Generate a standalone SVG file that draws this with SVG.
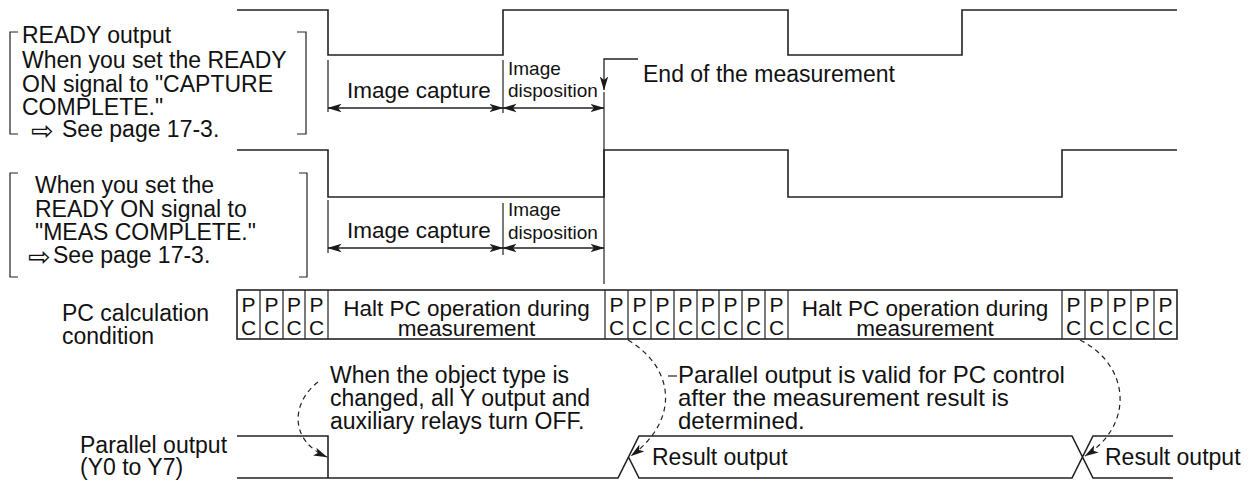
<svg xmlns="http://www.w3.org/2000/svg" width="1249" height="481" viewBox="0 0 1249 481">
<defs>
<marker id="ah" viewBox="0 0 14 10" refX="13.5" refY="5" markerWidth="14" markerHeight="10" markerUnits="userSpaceOnUse" orient="auto-start-reverse"><path d="M0,0.8 L14,5 L0,9.2 L3.5,5 z" fill="#1a1a1a"/></marker>
</defs>
<style>
text{font-family:"Liberation Sans",Arial,"DejaVu Sans",sans-serif;font-size:23px;fill:#111}
.sm{font-size:19px}
.ic{font-size:22.5px}
.pc{font-size:21px;text-anchor:middle}
.halt{font-size:22.5px;text-anchor:middle}
.ra{font-size:24px}
.arw{font-family:"DejaVu Sans",sans-serif;font-size:27px}
.w{fill:none;stroke:#222;stroke-width:1.6}
.t{fill:none;stroke:#222;stroke-width:1.2}
.d{fill:none;stroke:#222;stroke-width:1.2;stroke-dasharray:5 4}
.dim{fill:none;stroke:#222;stroke-width:1.3;marker-start:url(#ah);marker-end:url(#ah)}
.one{fill:none;stroke:#222;stroke-width:1.3;marker-end:url(#ah)}
</style>
<rect width="1249" height="481" fill="#fff"/>

<g id="note-capture">
<path class="t" d="M18,32 H10 V134 H18 M297,32 H306 V134 H297"/>
<text x="22" y="43">READY output</text>
<text x="22" y="68">When you set the READY</text>
<text x="22" y="92">ON signal to "CAPTURE</text>
<text x="22" y="115">COMPLETE."</text>
<text class="arw" x="31" y="140">⇨</text>
<text x="62" y="137">See page 17-3.</text>
</g>

<g id="note-meas">
<path class="t" d="M18,173 H10 V277 H18 M299,173 H307 V277 H299"/>
<text x="35" y="193">When you set the</text>
<text x="35" y="217">READY ON signal to</text>
<text x="35" y="240">"MEAS COMPLETE."</text>
<text class="arw" x="28" y="266">⇨</text>
<text x="53" y="263">See page 17-3.</text>
</g>

<g id="wave-ready1">
<path class="w" d="M237,10 H328 V55 H503 V10 H788 V55 H962 V10 H1177"/>
<path class="t" d="M328,60 V112 M503,60 V113"/>
<text class="ic" x="347" y="98">Image capture</text>
<text class="sm" x="508" y="75">Image</text>
<text class="sm" x="508" y="97">disposition</text>
</g>

<g id="wave-ready2">
<path class="w" d="M237,150 H328 V197 H604 V150 H788 V197 H1062 V150 H1177"/>
<path class="t" d="M328,200 V253 M503,203 V255"/>
<text class="ic" x="347" y="238">Image capture</text>
<text class="sm" x="508" y="216">Image</text>
<text class="sm" x="508" y="239">disposition</text>
</g>

<g id="end-measurement">
<text x="643" y="82">End of the measurement</text>
<path class="t" d="M604,92 V284"/>
</g>

<g id="pc-row">
<text x="62" y="321">PC calculation</text>
<text x="62" y="344">condition</text>
<rect x="237" y="290" width="940" height="49" class="t" style="stroke-width:1.6"/>
<path class="t" d="M260,290 V339 M283,290 V339 M305,290 V339 M328,290 V339 M605,290 V339 M628,290 V339 M651,290 V339 M674,290 V339 M697,290 V339 M719,290 V339 M742,290 V339 M765,290 V339 M788,290 V339 M1062,290 V339 M1085,290 V339 M1108,290 V339 M1131,290 V339 M1154,290 V339"/>
<g class="pcl">
<text class="pc" x="248.5" y="312">P</text><text class="pc" x="248.5" y="335">C</text>
<text class="pc" x="271.5" y="312">P</text><text class="pc" x="271.5" y="335">C</text>
<text class="pc" x="294" y="312">P</text><text class="pc" x="294" y="335">C</text>
<text class="pc" x="316.5" y="312">P</text><text class="pc" x="316.5" y="335">C</text>
<text class="pc" x="616.5" y="312">P</text><text class="pc" x="616.5" y="335">C</text>
<text class="pc" x="639.5" y="312">P</text><text class="pc" x="639.5" y="335">C</text>
<text class="pc" x="662.5" y="312">P</text><text class="pc" x="662.5" y="335">C</text>
<text class="pc" x="685.5" y="312">P</text><text class="pc" x="685.5" y="335">C</text>
<text class="pc" x="708" y="312">P</text><text class="pc" x="708" y="335">C</text>
<text class="pc" x="730.5" y="312">P</text><text class="pc" x="730.5" y="335">C</text>
<text class="pc" x="753.5" y="312">P</text><text class="pc" x="753.5" y="335">C</text>
<text class="pc" x="776.5" y="312">P</text><text class="pc" x="776.5" y="335">C</text>
<text class="pc" x="1073.5" y="312">P</text><text class="pc" x="1073.5" y="335">C</text>
<text class="pc" x="1096.5" y="312">P</text><text class="pc" x="1096.5" y="335">C</text>
<text class="pc" x="1119.5" y="312">P</text><text class="pc" x="1119.5" y="335">C</text>
<text class="pc" x="1142.5" y="312">P</text><text class="pc" x="1142.5" y="335">C</text>
<text class="pc" x="1165.5" y="312">P</text><text class="pc" x="1165.5" y="335">C</text>
</g>
<text class="halt" x="466.5" y="316">Halt PC operation during</text>
<text class="halt" x="466.5" y="336">measurement</text>
<text class="halt" x="925" y="316">Halt PC operation during</text>
<text class="halt" x="925" y="336">measurement</text>
</g>

<g id="parallel-output">
<text x="80" y="453">Parallel output</text>
<text x="80" y="475">(Y0 to Y7)</text>
<path class="w" d="M237,436 H328 V478 M237,478 H618 L639,436 H1072 L1093,478 H1173 M628.5,457 L639,478 H1072 L1093,436 H1173"/>
<text x="652" y="465">Result output</text>
<text x="1105" y="465">Result output</text>
</g>

<g id="note-object-type">
<text x="330" y="383">When the object type is</text>
<text x="330" y="406">changed, all Y output and</text>
<text x="330" y="429">auxiliary relays turn OFF.</text>
</g>

<g id="note-valid">
<path class="t" d="M668,376 H677"/>
<text class="ra" x="678" y="383">Parallel output is valid for PC control</text>
<text class="ra" x="678" y="406">after the measurement result is</text>
<text class="ra" x="678" y="429">determined.</text>
</g>

<g id="connectors">
<path class="dim" d="M328,108 H503"/>
<path class="dim" d="M503,108 H604"/>
<path class="dim" d="M328,248 H503"/>
<path class="dim" d="M503,248 H604"/>
<path class="one" d="M638,59 H604 V90"/>
<path class="d" d="M318,382 C292,402 288,440 327,457" marker-end="url(#ah)"/>
<path class="d" d="M628,340 C675,368 680,420 631,456" marker-end="url(#ah)"/>
<path class="d" d="M1080,340 C1130,365 1135,425 1085,456" marker-end="url(#ah)"/>
</g>
</svg>
